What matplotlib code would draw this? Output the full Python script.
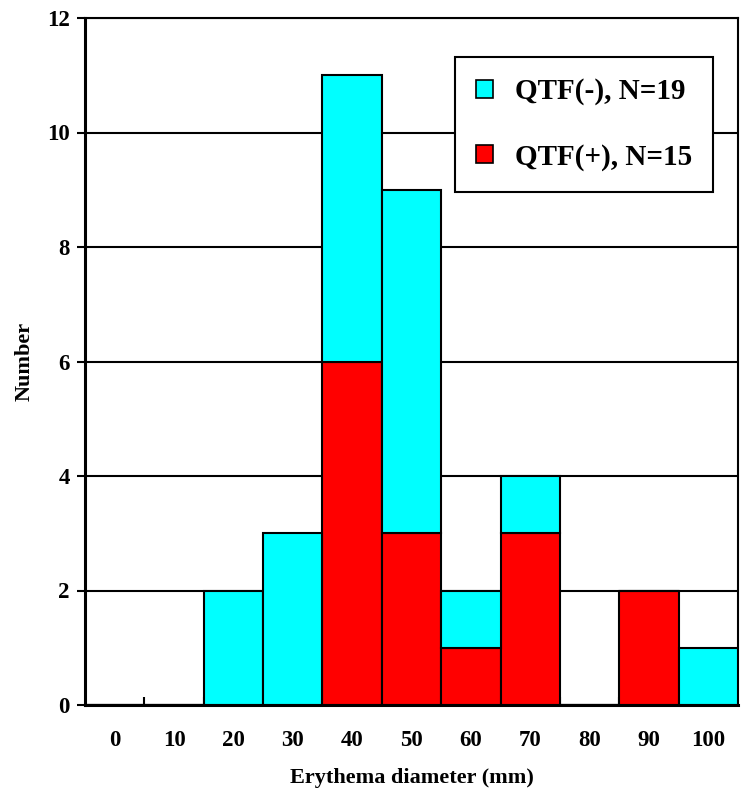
import matplotlib
matplotlib.use("Agg")
import matplotlib.pyplot as plt
import numpy as np

plt.rcParams["font.family"] = ["Liberation Serif", "DejaVu Serif"]
plt.rcParams["font.weight"] = "bold"

diameters = ["0", "10", "20", "30", "40", "50", "60", "70", "80", "90", "100"]
qtf_pos = [0, 0, 0, 0, 6, 3, 1, 3, 0, 2, 0]
qtf_neg = [0, 0, 2, 3, 5, 6, 1, 1, 0, 0, 1]

CYAN = "#00FFFF"
RED = "#FF0000"


def main():
    fig = plt.figure(figsize=(7.43, 7.92), dpi=100)
    ax = fig.add_axes([85 / 743, 1 - 705 / 792, 653 / 743, 687 / 792])

    x = np.arange(len(diameters))
    ax.bar(x, qtf_pos, width=1.0, color=RED, edgecolor="black", linewidth=1.5, zorder=3)
    ax.bar(x, qtf_neg, width=1.0, bottom=qtf_pos, color=CYAN, edgecolor="black",
           linewidth=1.5, zorder=3)

    ax.set_xlim(-0.5, len(diameters) - 0.5)
    ax.set_ylim(0, 12)
    ax.set_yticks(range(0, 13, 2))
    ax.set_xticks(x)
    ax.set_xticklabels(diameters)
    ax.set_xticks(x[:-1] + 0.5, minor=True)
    ax.tick_params(axis="x", which="major", length=0, pad=18, labelsize=16.5)
    ax.tick_params(axis="x", which="minor", direction="in", length=6, width=1.5)
    ax.tick_params(axis="y", direction="out", length=6, width=1.5, labelsize=16.5, pad=5)
    for lab in ax.get_xticklabels() + ax.get_yticklabels():
        lab.set_fontweight("bold")

    ax.yaxis.grid(True, color="black", linewidth=1.5, zorder=0)
    ax.set_axisbelow(True)
    for side in ("left", "bottom"):
        ax.spines[side].set_linewidth(2.2)
        ax.spines[side].set_zorder(4)
    for side in ("top", "right"):
        ax.spines[side].set_linewidth(1.5)

    ax.set_xlabel("Erythema diameter (mm)", fontsize=16, fontweight="bold", labelpad=12)
    ax.set_ylabel("Number", fontsize=16, fontweight="bold", labelpad=9)

    handles = [
        plt.Rectangle((0, 0), 1, 1, facecolor=CYAN, edgecolor="black", linewidth=1.2),
        plt.Rectangle((0, 0), 1, 1, facecolor=RED, edgecolor="black", linewidth=1.2),
    ]
    leg = ax.legend(handles, ["QTF(-), N=19", "QTF(+), N=15"],
                    loc="upper right", bbox_to_anchor=(0.962, 0.943), borderaxespad=0,
                    prop={"family": ["Liberation Serif"], "weight": "bold", "size": 21},
                    handlelength=0.6, handleheight=0.6, handletextpad=0.75,
                    labelspacing=1.3, borderpad=0.72, fancybox=False,
                    edgecolor="black", framealpha=1)
    leg.get_frame().set_linewidth(1.5)
    leg.set_zorder(5)

    fig.savefig("out.png", dpi=100)


if __name__ == "__main__":
    main()
